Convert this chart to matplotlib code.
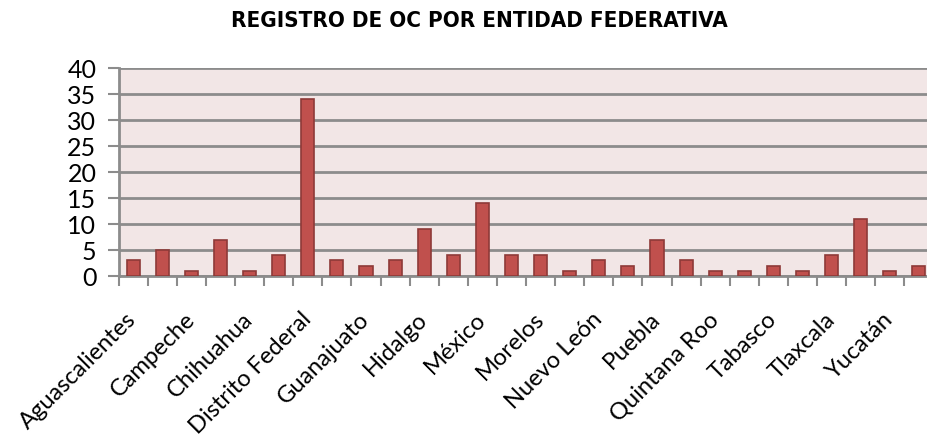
import matplotlib
matplotlib.use("Agg")
import matplotlib.pyplot as plt
from matplotlib import font_manager

# datos del registro de OC por entidad federativa
estados = ["Aguascalientes", "Baja California", "Campeche", "Chiapas", "Chihuahua",
           "Coahuila", "Distrito Federal", "Durango", "Guanajuato", "Guerrero",
           "Hidalgo", "Jalisco", "México", "Michoacán", "Morelos", "Nayarit",
           "Nuevo León", "Oaxaca", "Puebla", "Querétaro", "Quintana Roo",
           "San Luis Potosí", "Tabasco", "Tamaulipas", "Tlaxcala", "Veracruz",
           "Yucatán", "Zacatecas"]
registros = [3, 5, 1, 7, 1, 4, 34, 3, 2, 3, 9, 4, 14, 4, 4, 1, 3, 2, 7, 3, 1, 1,
             2, 1, 4, 11, 1, 2]
yticks = [0, 5, 10, 15, 20, 25, 30, 35, 40]
titulo = "REGISTRO DE OC POR ENTIDAD FEDERATIVA"

condensed = [f for f in font_manager.fontManager.ttflist
             if f.name == "DejaVu Sans" and "ondensed" in f.fname]
label_font = "Lato"

fig = plt.figure(figsize=(9.27, 4.4), dpi=100)
ax = fig.add_axes([0.128, 0.3727, 0.879, 0.4727])
ax.set_facecolor("#F2E6E6")

x = list(range(len(estados)))
ax.bar(x, registros, width=0.45, color="#C0504D", edgecolor="#8E3A38",
       linewidth=1.2, zorder=3)

ax.set_xlim(-0.5, len(estados) - 0.5)
ax.set_ylim(0, 40)
ax.set_yticks(yticks)
ax.yaxis.grid(True, color="#8C8C8C", linewidth=2, zorder=1)
ax.set_axisbelow(True)

# marcas entre categorias, etiquetas cada dos categorias
ax.set_xticks([i - 0.5 for i in range(len(estados) + 1)])
ax.set_xticklabels([])
ax.set_xticks(x[::2], minor=True)
ax.set_xticklabels(estados[::2], minor=True, rotation=45, ha="right",
                   va="center", rotation_mode="anchor", fontsize=17,
                   family=label_font)
ax.tick_params(axis="x", which="major", length=7, width=1.5, color="#8C8C8C")
ax.tick_params(axis="x", which="minor", length=0, pad=29)
ax.tick_params(axis="y", length=8, width=1.5, color="#8C8C8C", pad=8,
               labelsize=18)
for lb in ax.get_yticklabels():
    lb.set_family(label_font)

for s in ["top", "right"]:
    ax.spines[s].set_visible(False)
for s in ["left", "bottom"]:
    ax.spines[s].set_color("#8C8C8C")
    ax.spines[s].set_linewidth(2)

if condensed:
    fig.text(0.517, 0.975, titulo, ha="center", va="top", fontsize=16,
             fontweight="bold", family="DejaVu Sans", fontstretch="condensed")
else:
    fig.text(0.517, 0.975, titulo, ha="center", va="top", fontsize=15,
             fontweight="bold", family="Liberation Sans")

fig.savefig("out.png", dpi=100)
